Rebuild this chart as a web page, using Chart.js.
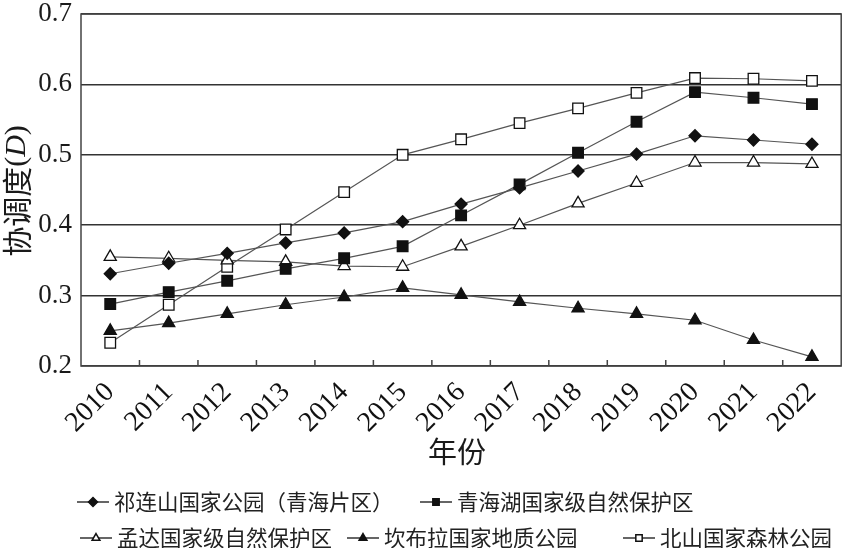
<!DOCTYPE html>
<html>
<head>
<meta charset="utf-8">
<script src="https://cdn.jsdelivr.net/npm/chart.js@4.4.1/dist/chart.umd.min.js"></script>
<style>
  body { margin: 0; background: #fff; }
  #wrap { width: 850px; height: 548px; position: relative; }
</style>
</head>
<body>
<div id="wrap"><canvas id="coord"></canvas></div>
<script>
const years = ["2010", "2011", "2012", "2013", "2014", "2015", "2016", "2017", "2018", "2019", "2020", "2021", "2022"];
const qilian = [0.331, 0.346, 0.360, 0.375, 0.389, 0.405, 0.430, 0.453, 0.477, 0.501, 0.527, 0.521, 0.515];
const qinghaihu = [0.288, 0.305, 0.321, 0.338, 0.353, 0.370, 0.414, 0.458, 0.503, 0.547, 0.589, 0.581, 0.572];
const mengda = [0.355, 0.353, 0.350, 0.348, 0.342, 0.341, 0.370, 0.400, 0.431, 0.460, 0.489, 0.489, 0.487];
const kanbula = [0.250, 0.261, 0.274, 0.287, 0.298, 0.311, 0.301, 0.291, 0.282, 0.274, 0.265, 0.237, 0.213];
const beishan = [0.233, 0.287, 0.341, 0.394, 0.447, 0.500, 0.522, 0.545, 0.566, 0.588, 0.609, 0.608, 0.605];
const yTicks = [0.2, 0.3, 0.4, 0.5, 0.6, 0.7];

const seriesNames = ["祁连山国家公园（青海片区）", "青海湖国家级自然保护区", "孟达国家级自然保护区", "坎布拉国家地质公园", "北山国家森林公园"];

const cjk = '"Noto Sans CJK SC", "Noto Sans", sans-serif';
const serif = '"Liberation Serif", "DejaVu Serif", serif';

// legend slots (two rows as in the figure)
const legendSlots = [
  { x: 77, y: 502 },
  { x: 420, y: 502 },
  { x: 80, y: 538 },
  { x: 347, y: 538 },
  { x: 623, y: 538 },
];

function makeSet(label, data, style, fill, radius) {
  return {
    label: label,
    data: data,
    borderColor: "#555",
    borderWidth: 1.2,
    pointStyle: style,
    pointRadius: radius,
    pointBackgroundColor: fill,
    pointBorderColor: "#111",
    pointBorderWidth: 1.3,
    tension: 0,
    clip: false,
  };
}

const decor = {
  id: "decor",
  afterDraw(chart) {
    const ctx = chart.ctx;
    const a = chart.chartArea;
    const xs = chart.scales.x;
    ctx.save();

    // plot frame
    ctx.strokeStyle = "#444";
    ctx.lineWidth = 1.5;
    ctx.strokeRect(a.left, a.top, a.right - a.left, a.bottom - a.top);

    // inside tick marks between categories
    ctx.beginPath();
    for (let i = 1; i < years.length; i++) {
      const px = (xs.getPixelForValue(i - 1) + xs.getPixelForValue(i)) / 2;
      ctx.moveTo(px, a.bottom);
      ctx.lineTo(px, a.bottom - 6);
    }
    ctx.stroke();

    // x title
    ctx.fillStyle = "#1a1a1a";
    ctx.font = "29px " + cjk;
    ctx.textAlign = "center";
    ctx.textBaseline = "middle";
    ctx.fillText("年份", (a.left + a.right) / 2 - 4, 452);

    // y title: 协调度(D) with italic D
    ctx.save();
    ctx.translate(17, 191);
    ctx.rotate(-Math.PI / 2);
    const parts = [
      { t: "协调度", f: "30px " + cjk },
      { t: "(", f: "30px " + serif },
      { t: "D", f: "italic 30px " + serif },
      { t: ")", f: "30px " + serif },
    ];
    let total = 0;
    parts.forEach(p => { ctx.font = p.f; p.w = ctx.measureText(p.t).width; total += p.w; });
    let cx = -total / 2;
    ctx.textAlign = "left";
    parts.forEach(p => { ctx.font = p.f; ctx.fillText(p.t, cx, 0); cx += p.w; });
    ctx.restore();

    // legend
    chart.data.datasets.forEach((ds, i) => {
      const s = legendSlots[i];
      ctx.strokeStyle = "#333";
      ctx.lineWidth = 1.5;
      ctx.beginPath();
      ctx.moveTo(s.x, s.y);
      ctx.lineTo(s.x + 32, s.y);
      ctx.stroke();
      ctx.fillStyle = ds.pointBackgroundColor;
      ctx.strokeStyle = "#111";
      Chart.helpers.drawPoint(ctx, { pointStyle: ds.pointStyle, radius: 4.5, rotation: 0, borderWidth: 1.2 }, s.x + 16, s.y);
      ctx.fillStyle = "#222";
      ctx.font = "21.5px " + cjk;
      ctx.textAlign = "left";
      ctx.textBaseline = "middle";
      ctx.fillText(ds.label, s.x + 37, s.y);
    });
    ctx.restore();
  },
};

const coord = document.getElementById("coord").getContext("2d");

let coordChart = new Chart(coord, {
  type: "line",
  data: {
    labels: years,
    datasets: [
      makeSet(seriesNames[0], qilian, "rectRot", "#111", 6),
      makeSet(seriesNames[1], qinghaihu, "rect", "#111", 7.5),
      makeSet(seriesNames[2], mengda, "triangle", "#fff", 7),
      makeSet(seriesNames[3], kanbula, "triangle", "#111", 7),
      makeSet(seriesNames[4], beishan, "rect", "#fff", 7.5),
    ],
  },
  options: {
    responsive: true,
    maintainAspectRatio: false,
    animation: false,
    layout: {
      padding: { top: 14, right: 6, bottom: 82, left: 0 },
    },
    plugins: {
      legend: { display: false },
      tooltip: { enabled: false },
    },
    scales: {
      x: {
        offset: true,
        afterFit: function (scale) {
          scale.height = 100;
          scale.paddingLeft = 0;
          scale.paddingRight = 0;
        },
        grid: {
          display: false,
        },
        border: { display: false },
        ticks: {
          autoSkip: false,
          minRotation: 45,
          maxRotation: 45,
          padding: 2,
          color: "#111",
          font: { family: serif, size: 28 },
        },
      },
      y: {
        min: 0.2,
        max: 0.7,
        afterFit: function (scale) {
          scale.width = 81;
          scale.paddingTop = 0;
          scale.paddingBottom = 0;
        },
        afterBuildTicks: function (scale) {
          scale.ticks = yTicks.map(v => ({ value: v }));
        },
        grid: {
          color: "#333",
          lineWidth: 1.5,
          drawTicks: false,
        },
        border: { display: false },
        ticks: {
          padding: 9,
          color: "#1a1a1a",
          font: { family: serif, size: 27 },
          callback: function (value) {
            return value.toFixed(1);
          },
        },
      },
    },
  },
  plugins: [decor],
});
</script>
</body>
</html>
